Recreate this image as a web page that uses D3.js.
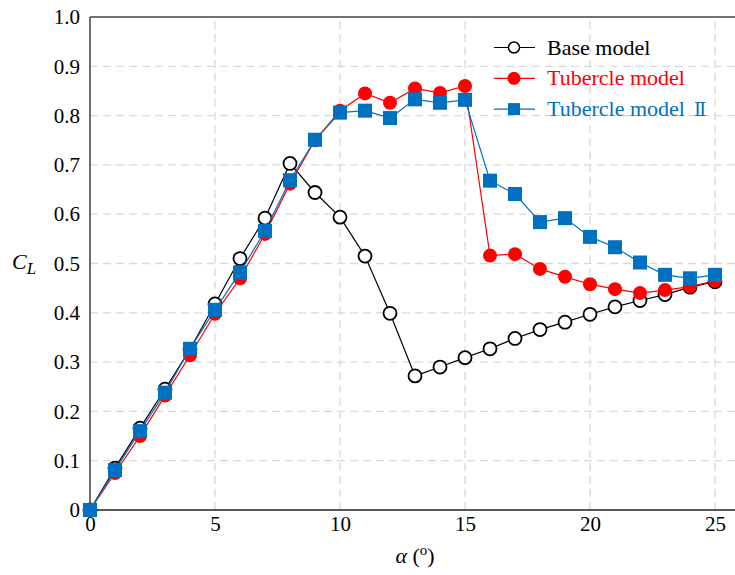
<!DOCTYPE html>
<html>
<head>
<meta charset="utf-8">
<script src="https://cdn.jsdelivr.net/npm/d3@7"></script>
<style>
  html, body { margin: 0; padding: 0; background: #fff; }
  svg { display: block; }
</style>
</head>
<body>
<div id="chart"></div>
<script>
// Angle of attack (degrees)
const alpha = [0,1,2,3,4,5,6,7,8,9,10,11,12,13,14,15,16,17,18,19,20,21,22,23,24,25];

// Lift coefficient C_L for each model
const baseModel = [0, 0.085, 0.166, 0.245, 0.326, 0.418, 0.510, 0.592, 0.703, 0.644, 0.594, 0.515, 0.399, 0.272,
  0.290, 0.309, 0.327, 0.348, 0.366, 0.381, 0.397, 0.412, 0.425, 0.437, 0.452, 0.463];
const tubercleModel = [0, 0.075, 0.150, 0.232, 0.314, 0.398, 0.470, 0.560, 0.662, 0.750, 0.810, 0.845, 0.826, 0.855,
  0.846, 0.860, 0.516, 0.519, 0.489, 0.473, 0.458, 0.448, 0.440, 0.446, 0.453, 0.465];
const tubercleModel2 = [0, 0.081, 0.160, 0.238, 0.327, 0.406, 0.482, 0.566, 0.669, 0.751, 0.806, 0.810, 0.795, 0.833,
  0.826, 0.832, 0.668, 0.641, 0.584, 0.592, 0.554, 0.533, 0.502, 0.477, 0.470, 0.477];

const xTicks = [0, 5, 10, 15, 20, 25];
const yTicks = [0, 0.1, 0.2, 0.3, 0.4, 0.5, 0.6, 0.7, 0.8, 0.9, 1.0];
const seriesNames = ["Base model", "Tubercle model", "Tubercle model"];
const numeral = "\u2161";

const FONT = "Liberation Serif";
const W = 735, H = 575;
const margin = { left: 90, top: 17, right: 0, bottom: 65 };

const svg = d3.select("#chart").append("svg")
  .attr("width", W).attr("height", H)
  .attr("font-family", FONT);

const x = d3.scaleLinear().domain([0, 25.8]).range([margin.left, W - margin.right]);
const y = d3.scaleLinear().domain([0, 1]).range([H - margin.bottom, margin.top]);

// Dashed grid
const grid = svg.append("g").attr("stroke", "#d9d9d9").attr("stroke-width", 1.3)
  .attr("stroke-dasharray", "8,5");
grid.selectAll("line.v").data(xTicks.filter(d => d > 0)).join("line")
  .attr("x1", d => x(d)).attr("x2", d => x(d))
  .attr("y1", y(0)).attr("y2", y(1));
grid.selectAll("line.h").data(yTicks.filter(d => d > 0 && d < 1)).join("line")
  .attr("x1", x(0)).attr("x2", W)
  .attr("y1", d => y(d)).attr("y2", d => y(d));

// Axes
const xAxis = d3.axisBottom(x).tickValues(xTicks).tickSize(0).tickPadding(6).tickFormat(d3.format("d"));
const yAxis = d3.axisLeft(y).tickValues(yTicks).tickSize(0).tickPadding(10)
  .tickFormat(d => d === 0 ? "0" : d3.format(".1f")(d));

const gx = svg.append("g").attr("transform", `translate(0,${y(0)})`).call(xAxis);
const gy = svg.append("g").attr("transform", `translate(${x(0)},0)`).call(yAxis);
[gx, gy].forEach(g => {
  g.attr("font-family", FONT).attr("font-size", 21);
  g.select(".domain").remove();
  g.selectAll("text").attr("font-family", FONT).attr("font-size", 21).attr("fill", "#000");
});

// Frame: left, bottom, top
svg.append("line").attr("x1", x(0)).attr("x2", x(0)).attr("y1", y(0)).attr("y2", y(1))
  .attr("stroke", "#222").attr("stroke-width", 1.3);
svg.append("line").attr("x1", x(0)).attr("x2", W).attr("y1", y(0)).attr("y2", y(0))
  .attr("stroke", "#222").attr("stroke-width", 1.3);
svg.append("line").attr("x1", x(0)).attr("x2", W).attr("y1", y(1)).attr("y2", y(1))
  .attr("stroke", "#444").attr("stroke-width", 1.3);

// Axis titles
const cl = svg.append("text").attr("x", 12).attr("y", 269).attr("font-family", FONT)
  .attr("font-size", 22).attr("font-style", "italic").attr("fill", "#000");
cl.append("tspan").text("C");
cl.append("tspan").attr("font-size", 17).attr("dy", 5).text("L");

const xl = svg.append("text").attr("x", 415).attr("y", 563).attr("text-anchor", "middle")
  .attr("font-family", FONT).attr("font-size", 22).attr("fill", "#000");
xl.append("tspan").attr("font-style", "italic").text("\u03b1");
xl.append("tspan").text(" (");
xl.append("tspan").attr("font-size", 15).attr("dy", -8).text("o");
xl.append("tspan").attr("dy", 8).text(")");

const line = d3.line().x((d, i) => x(alpha[i])).y(d => y(d));

const BLUE = "#0070c0", RED = "#ff0000";

// Base model
svg.append("path").datum(baseModel).attr("d", line)
  .attr("fill", "none").attr("stroke", "#000").attr("stroke-width", 1.2);
svg.append("g").selectAll("circle").data(baseModel).join("circle")
  .attr("cx", (d, i) => x(alpha[i])).attr("cy", d => y(d)).attr("r", 6.5)
  .attr("fill", "#fff").attr("stroke", "#000").attr("stroke-width", 1.8);

// Tubercle model
svg.append("path").datum(tubercleModel).attr("d", line)
  .attr("fill", "none").attr("stroke", RED).attr("stroke-width", 1.2);
svg.append("g").selectAll("circle").data(tubercleModel).join("circle")
  .attr("cx", (d, i) => x(alpha[i])).attr("cy", d => y(d)).attr("r", 7)
  .attr("fill", RED);

// Tubercle model II
svg.append("path").datum(tubercleModel2).attr("d", line)
  .attr("fill", "none").attr("stroke", BLUE).attr("stroke-width", 1.2);
const s = 14;
svg.append("g").selectAll("rect").data(tubercleModel2).join("rect")
  .attr("x", (d, i) => x(alpha[i]) - s / 2).attr("y", d => y(d) - s / 2)
  .attr("width", s).attr("height", s).attr("fill", BLUE);

// Legend
const legend = svg.append("g");
const rows = [
  { name: seriesNames[0], color: "#000", mark: "open", suffix: "" },
  { name: seriesNames[1], color: RED, mark: "dot", suffix: "" },
  { name: seriesNames[2], color: BLUE, mark: "square", suffix: numeral }
];
rows.forEach((r, i) => {
  const ly = 47.5 + i * 30.8;
  const g = legend.append("g");
  g.append("line").attr("x1", 494).attr("x2", 535).attr("y1", ly).attr("y2", ly)
    .attr("stroke", r.color).attr("stroke-width", 1.2);
  if (r.mark === "open") {
    g.append("circle").attr("cx", 514).attr("cy", ly).attr("r", 5.5)
      .attr("fill", "#fff").attr("stroke", "#000").attr("stroke-width", 1.5);
  } else if (r.mark === "dot") {
    g.append("circle").attr("cx", 514).attr("cy", ly).attr("r", 6.5).attr("fill", r.color);
  } else {
    g.append("rect").attr("x", 508).attr("y", ly - 6).attr("width", 12).attr("height", 12).attr("fill", r.color);
  }
  const t = g.append("text").attr("x", 547).attr("y", ly + 7).attr("font-family", FONT)
    .attr("font-size", 22).attr("fill", r.color).text(r.name);
  if (r.suffix) {
    t.append("tspan").attr("dx", 9).attr("font-family", "DejaVu Serif").attr("font-size", 18)
      .text(r.suffix);
  }
});
</script>
</body>
</html>
